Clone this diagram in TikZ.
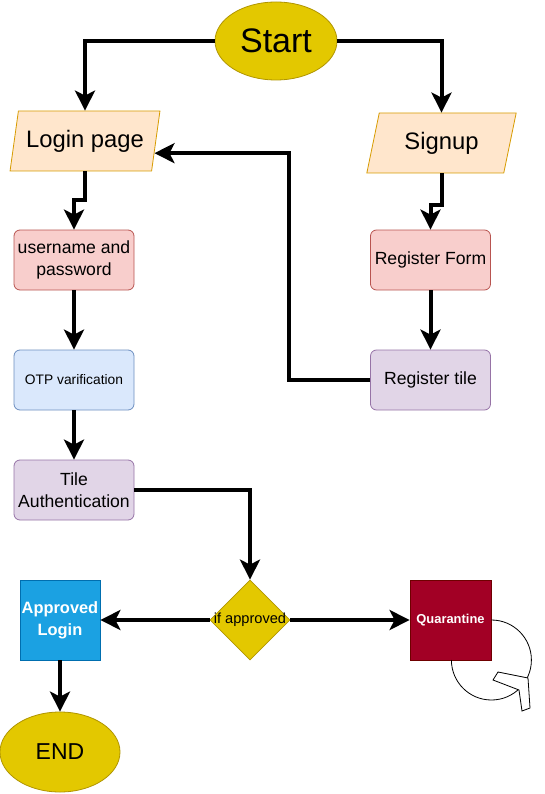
\documentclass[tikz,border=0pt]{standalone}
\usepackage{fontspec}
\setmainfont{Liberation Sans}
\usetikzlibrary{shapes.geometric,arrows.meta,calc}
\definecolor{yelF}{HTML}{E3C800}
\definecolor{yelD}{HTML}{B09500}
\definecolor{orF}{HTML}{FFE6CC}
\definecolor{orD}{HTML}{D79B00}
\definecolor{redF}{HTML}{F8CECC}
\definecolor{redD}{HTML}{B85450}
\definecolor{bluF}{HTML}{DAE8FC}
\definecolor{bluD}{HTML}{6C8EBF}
\definecolor{purF}{HTML}{E1D5E7}
\definecolor{purD}{HTML}{9673A6}
\definecolor{cyaF}{HTML}{1BA1E2}
\definecolor{cyaD}{HTML}{006EAF}
\definecolor{crmF}{HTML}{A20025}
\definecolor{crmD}{HTML}{6F0000}
\begin{document}
\begin{tikzpicture}[x=1pt,y=-1pt,
  every node/.style={inner sep=0pt},
  oval/.style={ellipse, draw=yelD, fill=yelF, line width=0.8pt},
  para/.style={trapezium, trapezium left angle=71.57, trapezium right angle=108.43,
    trapezium stretches=true, minimum width=150pt, minimum height=60pt,
    draw=orD, fill=orF, line width=0.8pt, font=\fontsize{23.8}{28}\selectfont},
  rbox/.style={rectangle, rounded corners=6pt, minimum width=120pt, minimum height=60pt,
    line width=0.8pt, align=center, font=\fontsize{17.6}{22}\selectfont},
  sqbox/.style={rectangle, minimum width=80pt, minimum height=80pt, line width=0.8pt,
    text=white, align=center},
  conn/.style={line width=4pt, -{Stealth[length=20pt,width=20pt,inset=5pt]}},
  loopline/.style={line width=0.8pt, black}
]
\useasboundingbox (0,0) rectangle (545,794);

\node[oval, minimum width=122pt, minimum height=78pt, font=\fontsize{34}{40}\selectfont] (start) at (276,41) {Start};
\node[para] (login) at (85,141) {Login page};
\node[para] (signup) at (441.5,143) {Signup};
\node[rbox, draw=redD, fill=redF] (user) at (74,260) {username and\\password};
\node[rbox, draw=redD, fill=redF] (regform) at (430.5,260) {Register Form};
\node[rbox, draw=purD, fill=purF] (regtile) at (430.5,380) {Register tile};
\node[rbox, draw=bluD, fill=bluF, font=\fontsize{13.8}{17}\selectfont] (otp) at (74,380) {OTP varification};
\node[rbox, draw=purD, fill=purF] (tile) at (74,490) {Tile\\Authentication};
\node[diamond, draw=yelD, fill=yelF, line width=0.8pt, minimum width=80pt, minimum height=80pt] (dia) at (250,620) {};
\node[font=\fontsize{14.6}{17}\selectfont] (diatext) at (dia.center) {if approved};
\node[sqbox, draw=cyaD, fill=cyaF, font=\fontsize{16.4}{22}\selectfont\bfseries] (appr) at (60,620) {Approved\\Login};
\node[sqbox, draw=crmD, fill=crmF, minimum width=81pt, font=\fontsize{12.9}{16}\selectfont\bfseries] (quar) at (450.5,620) {Quarantine};
\node[oval, minimum width=120pt, minimum height=80pt, font=\fontsize{23}{28}\selectfont] (end) at (60,752) {END};

\coordinate (lp) at ($(login.bottom right corner)!0.3!(login.top right corner)$);

\draw[conn] (start.west) -| (login.north);
\draw[conn] (start.east) -| (signup.north);
\draw[conn] (login.south) -- ++(0,29) -| (user.north);
\draw[conn] (signup.south) -- ++(0,32) -| (regform.north);
\draw[conn] (regform.south) -- (regtile.north);
\draw[conn] (regtile.west) -- ++(-81,0) |- (lp);
\draw[conn] (user.south) -- (otp.north);
\draw[conn] (otp.south) -- (tile.north);
\draw[conn] (tile.east) -| (dia.north);
\draw[conn] (dia.west) -- (appr.east);
\draw[conn] (dia.east) -- (quar.west);
\draw[conn] (appr.south) -- (end.north);

\draw[loopline] (quar.east) arc[start angle=-90, end angle=180, radius=40];
\draw[loopline, fill=white] (493,680) -- (498,672) -- (528,678) -- (530,708) -- (522,711) -- (519,690) -- cycle;
\end{tikzpicture}
\end{document}
